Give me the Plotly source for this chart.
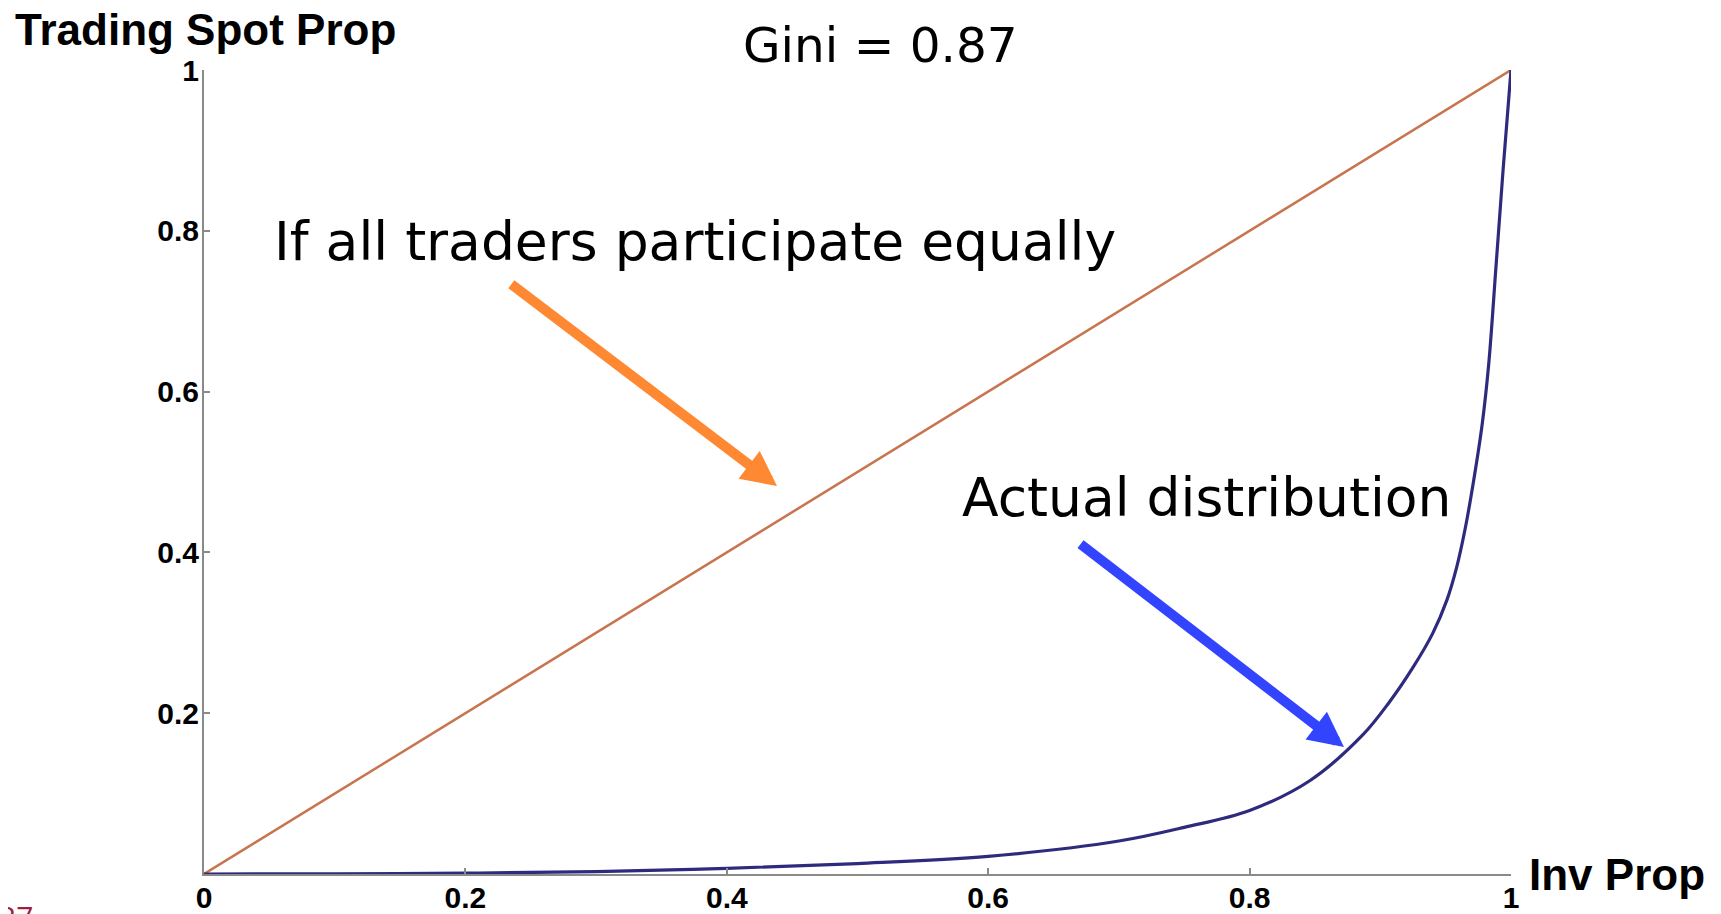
import plotly.graph_objects as go

# Lorenz-style curve
curve_x = [0, 0.1, 0.2, 0.3, 0.4, 0.5, 0.6, 0.7, 0.75, 0.8, 0.846, 0.886, 0.907,
           0.925, 0.940, 0.951, 0.9585, 0.965, 0.9715, 0.978, 0.983, 0.9885, 0.9939, 1.0]
curve_y = [0, 0.0003, 0.001, 0.003, 0.007, 0.013, 0.022, 0.041, 0.058, 0.079, 0.116, 0.172, 0.214,
           0.257, 0.299, 0.341, 0.382, 0.43, 0.49, 0.56, 0.635, 0.755, 0.875, 1.0]

equal_x = [0, 1]
equal_y = [0, 1]

x_ticks = [0, 0.2, 0.4, 0.6, 0.8, 1]
x_tick_labels = ["0", "0.2", "0.4", "0.6", "0.8", "1"]
y_ticks = [0.2, 0.4, 0.6, 0.8, 1]
y_tick_labels = ["0.2", "0.4", "0.6", "0.8", "1"]

gini_text = "Gini = 0.87"
equal_label = "If all traders participate equally"
actual_label = "Actual distribution"
page_number = "27"

fig = go.Figure()
fig.add_trace(go.Scatter(x=equal_x, y=equal_y, mode="lines",
                         line=dict(color="#C8744E", width=2.5), showlegend=False))
fig.add_trace(go.Scatter(x=curve_x, y=curve_y, mode="lines",
                         line=dict(color="#2E2B7E", width=3.2, shape="spline", smoothing=1.0),
                         showlegend=False))

axis_common = dict(
    showgrid=False, zeroline=False, showline=True, linecolor="#8A8A8A", linewidth=2,
    ticks="inside", ticklen=6, tickwidth=1.5, tickcolor="#8A8A8A",
    tickfont=dict(family="Liberation Sans", size=30, color="black", weight="bold"),
    automargin=False,
)
fig.update_xaxes(range=[0, 1], tickvals=x_ticks, ticktext=x_tick_labels,
                 ticklabelstandoff=-4, **axis_common)
fig.update_yaxes(range=[0, 1], tickvals=y_ticks, ticktext=y_tick_labels,
                 ticklabelstandoff=-3, **axis_common)

text_font = dict(family="DejaVu Sans", size=53.5, color="black")

# page body has an 8px default margin, so the figure is 8px smaller than the window
fig.update_layout(
    width=1713, height=906,
    margin=dict(l=196, r=210, t=62, b=40),
    plot_bgcolor="white", paper_bgcolor="white",
    annotations=[
        dict(text=gini_text, xref="paper", yref="paper", x=(880 - 204) / 1307, y=1,
             yshift=25, xanchor="center", yanchor="middle", showarrow=False,
             font=dict(family="DejaVu Sans", size=48.5, color="black")),
        dict(text="Trading Spot Prop", xref="paper", yref="paper", x=(13 - 204) / 1307, y=1,
             yshift=41, xanchor="left", yanchor="middle", showarrow=False,
             font=dict(family="Liberation Sans", size=44, color="black", weight="bold")),
        dict(text="Inv Prop", xref="paper", yref="paper", x=1, y=0, xshift=16,
             xanchor="left", yanchor="middle", showarrow=False,
             font=dict(family="Liberation Sans", size=44, color="black", weight="bold")),
        dict(text=equal_label, xref="x", yref="y", x=(695 - 204) / 1307, y=(874 - 241) / 804,
             xanchor="center", yanchor="middle", showarrow=False, font=text_font),
        dict(text=actual_label, xref="x", yref="y", x=(1207 - 204) / 1307, y=(874 - 497) / 804,
             xanchor="center", yanchor="middle", showarrow=False, font=text_font),
        dict(text="", xref="x", yref="y", axref="x", ayref="y",
             x=0.4384, y=0.4826, ax=0.234, ay=0.735,
             showarrow=True, arrowhead=2, arrowsize=0.7, arrowwidth=10, arrowcolor="#FF8833"),
        dict(text="", xref="x", yref="y", axref="x", ayref="y",
             x=0.8722, y=0.158, ax=0.6695, ay=0.4117,
             showarrow=True, arrowhead=2, arrowsize=0.7, arrowwidth=10, arrowcolor="#3344FF"),
        dict(text=page_number, xref="paper", yref="paper", x=(-3 - 204) / 1307, y=0,
             yshift=-20, xanchor="left", yanchor="top", showarrow=False,
             font=dict(family="Open Sans", size=30, color="#A0203C")),
    ],
)

fig.write_html("out.html")
